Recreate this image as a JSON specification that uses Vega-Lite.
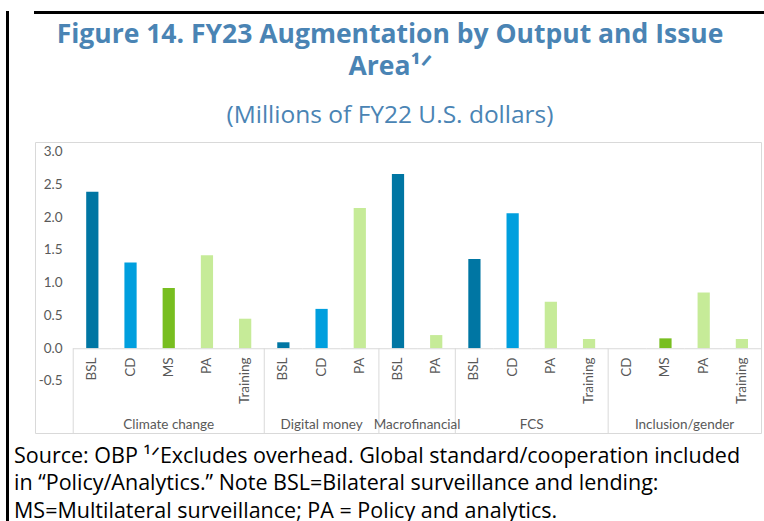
{
  "$schema": "https://vega.github.io/schema/vega-lite/v6.json",
  "background": "white",
  "padding": {"left": 5, "top": 10, "right": 0, "bottom": 0},
  "config": {
    "view": {"stroke": "#D9D9D9", "strokeWidth": 1}
  },
  "spacing": 4,
  "hconcat": [
    {
      "width": 1,
      "height": 515,
      "view": {"stroke": "#000000", "strokeWidth": 2},
      "data": {"values": [{}]},
      "mark": {"type": "rule", "opacity": 0},
      "encoding": {}
    },
    {
      "spacing": 13,
      "vconcat": [
        {
          "width": 730,
          "height": 1,
          "view": {"stroke": "#000000", "strokeWidth": 2},
          "title": {
            "text": ["Figure 14. FY23 Augmentation by Output and Issue", "Area¹ᐟ"],
            "subtitle": "(Millions of FY22 U.S. dollars)",
            "orient": "bottom",
            "anchor": "middle",
            "dx": -10,
            "font": "Open Sans",
            "fontSize": 26.5,
            "fontWeight": "bold",
            "color": "#4A84B4",
            "lineHeight": 32,
            "subtitleFont": "Open Sans",
            "subtitleFontSize": 24.5,
            "subtitleFontWeight": "normal",
            "subtitleColor": "#4A84B4",
            "subtitlePadding": 23,
            "offset": 9
          },
          "data": {"values": [{}]},
          "mark": {"type": "rule", "opacity": 0},
          "encoding": {}
        },
        {
          "width": 726,
          "height": 291,
          "title": {
            "text": [" Source: OBP ¹ᐟExcludes overhead. Global standard/cooperation included", "in “Policy/Analytics.” Note BSL=Bilateral surveillance and lending:", "MS=Multilateral surveillance; PA = Policy and analytics."],
            "orient": "bottom",
            "anchor": "start",
            "font": "Open Sans",
            "fontSize": 21.5,
            "fontWeight": "normal",
            "color": "#000000",
            "lineHeight": 27.5,
            "dx": -21,
            "offset": 12
          },
          "data": {
            "values": [
              {"area": "Climate change", "output": "BSL", "value": 2.39},
              {"area": "Climate change", "output": "CD", "value": 1.31},
              {"area": "Climate change", "output": "MS", "value": 0.92},
              {"area": "Climate change", "output": "PA", "value": 1.42},
              {"area": "Climate change", "output": "Training", "value": 0.45},
              {"area": "Digital money", "output": "BSL", "value": 0.09},
              {"area": "Digital money", "output": "CD", "value": 0.6},
              {"area": "Digital money", "output": "PA", "value": 2.14},
              {"area": "Macrofinancial", "output": "BSL", "value": 2.66},
              {"area": "Macrofinancial", "output": "PA", "value": 0.2},
              {"area": "FCS", "output": "BSL", "value": 1.36},
              {"area": "FCS", "output": "CD", "value": 2.06},
              {"area": "FCS", "output": "PA", "value": 0.71},
              {"area": "FCS", "output": "Training", "value": 0.14},
              {"area": "Inclusion/gender", "output": "CD", "value": 0},
              {"area": "Inclusion/gender", "output": "MS", "value": 0.15},
              {"area": "Inclusion/gender", "output": "PA", "value": 0.85},
              {"area": "Inclusion/gender", "output": "Training", "value": 0.14}
            ]
          },
          "transform": [
            {"calculate": "datum.area + '|' + datum.output", "as": "key"}
          ],
          "layer": [
            {
              "mark": {"type": "bar", "width": {"band": 0.32}},
              "encoding": {
                "x": {
                  "field": "key",
                  "type": "nominal",
                  "sort": null,
                  "scale": {"paddingInner": 0, "paddingOuter": 0.5, "align": 1},
                  "axis": {
                    "title": null,
                    "labelExpr": "split(datum.label, '|')[1]",
                    "labelAngle": -90,
                    "labelAlign": "right",
                    "labelBaseline": "middle",
                    "labelPadding": 9,
                    "ticks": false,
                    "domain": false,
                    "grid": false,
                    "offset": -85,
                    "labelFont": "Lato",
                    "labelFontSize": 13.5,
                    "labelColor": "#595959"
                  }
                },
                "y": {
                  "field": "value",
                  "type": "quantitative",
                  "scale": {"domain": [-1.295, 3.148], "nice": false, "zero": false},
                  "axis": {
                    "title": null,
                    "values": [-0.5, 0, 0.5, 1, 1.5, 2, 2.5, 3],
                    "labelExpr": "datum.value < 0 ? '-' + format(-datum.value, '.1f') : format(datum.value, '.1f')",
                    "domain": false,
                    "ticks": false,
                    "grid": false,
                    "offset": -29,
                    "labelPadding": 2,
                    "labelFont": "Lato",
                    "labelFontSize": 13.5,
                    "labelColor": "#595959"
                  }
                },
                "color": {
                  "field": "output",
                  "type": "nominal",
                  "scale": {
                    "domain": ["BSL", "CD", "MS", "PA", "Training"],
                    "range": ["#0076A3", "#009FDE", "#78BE20", "#C6EB98", "#C6EB98"]
                  },
                  "legend": null
                }
              }
            },
            {
              "mark": {"type": "rect", "color": "#D9D9D9"},
              "encoding": {
                "x": {"field": "key", "type": "nominal", "sort": null},
                "y": {"datum": 0},
                "y2": {"datum": -0.016}
              }
            },
            {
              "transform": [
                {"window": [{"op": "row_number", "as": "rn"}], "groupby": ["area"]},
                {"filter": "datum.rn == 1"}
              ],
              "mark": {"type": "rule", "color": "#D9D9D9", "strokeWidth": 1},
              "encoding": {
                "x": {"field": "key", "type": "nominal", "sort": null, "bandPosition": 0},
                "y": {"datum": 0},
                "y2": {"datum": -1.295}
              }
            },
            {
              "transform": [
                {"window": [{"op": "row_number", "as": "rn"}, {"op": "count", "as": "n"}], "groupby": ["area"], "frame": [null, null]},
                {"filter": "datum.n % 2 == 1 && datum.rn == (datum.n + 1) / 2"}
              ],
              "mark": {"type": "text", "font": "Lato", "fontSize": 13.5, "color": "#595959", "baseline": "middle", "align": "center"},
              "encoding": {
                "x": {"field": "key", "type": "nominal", "sort": null, "bandPosition": 0.5},
                "y": {"datum": -1.17},
                "text": {"field": "area"}
              }
            },
            {
              "transform": [
                {"window": [{"op": "row_number", "as": "rn"}, {"op": "count", "as": "n"}], "groupby": ["area"], "frame": [null, null]},
                {"filter": "datum.n % 2 == 0 && datum.rn == datum.n / 2 + 1"}
              ],
              "mark": {"type": "text", "font": "Lato", "fontSize": 13.5, "color": "#595959", "baseline": "middle", "align": "center"},
              "encoding": {
                "x": {"field": "key", "type": "nominal", "sort": null, "bandPosition": 0},
                "y": {"datum": -1.17},
                "text": {"field": "area"}
              }
            }
          ]
        }
      ]
    }
  ]
}
